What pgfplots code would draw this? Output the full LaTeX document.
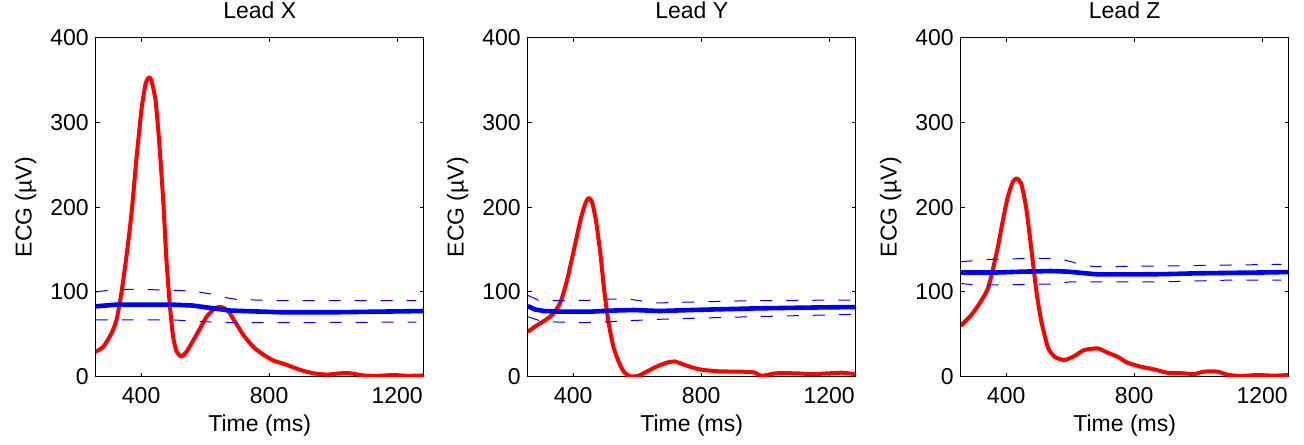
\documentclass[border=0pt]{standalone}
\usepackage{fontspec}
\setmainfont{Liberation Sans}
\usepackage{pgfplots}
\pgfplotsset{compat=1.18}
\definecolor{ecgred}{RGB}{255,0,0}
\definecolor{ecgblue}{RGB}{0,0,255}

\pgfplotsset{
  ecg/.style={
    scale only axis, width=164pt, height=169.5pt,
    xmin=258, xmax=1283, ymin=0, ymax=400,
    xtick={400,800,1200}, ytick={0,100,200,300,400},
    tick align=inside, major tick length=2pt,
    axis line style={line width=0.5pt},
    every tick/.style={black,line width=0.5pt},
    font=\fontsize{11.5}{13.8}\selectfont,
    /pgf/number format/assume math mode=true,
    /pgf/number format/1000 sep={},
    xticklabel style={yshift=-2pt},
    xlabel={Time (ms)}, ylabel={ECG (µV)},
    xlabel style={at={(axis description cs:0.5,0)},anchor=center,yshift=-24.5pt},
    ylabel style={at={(axis description cs:-0.2134,0.5)},anchor=center},
    every axis title/.style={at={(axis description cs:0.5,1)},anchor=center,yshift=13.5pt},
  },
  ecgline/.style={ecgred,line width=2pt,line join=round,smooth,tension=0.35},
  meanline/.style={ecgblue,line width=2.3pt,line join=round},
  bandline/.style={ecgblue,line width=0.5pt,dash pattern=on 6pt off 7pt},
}

\begin{document}
\begin{tikzpicture}
\useasboundingbox (0,0) rectangle (652pt,222pt);

% Lead X
\begin{axis}[ecg,at={(47.85pt,33.65pt)},anchor=south west,title={Lead X}]
\addplot[ecgline] coordinates {
(257,29.5) (281,35) (307,51) (323,67) (338,98) (354,142) (370,193) (385,256)
(401,315) (414,346) (424,353) (432,350) (445,326) (456,279) (469,208) (479,138)
(490,83) (500,47) (511,29.5) (526,24) (542,29.5) (563,43) (584,57) (605,71)
(631,81) (652,82) (673,77) (693,65) (720,49) (751,35) (782,26) (814,19)
(855,14) (897,8) (939,4) (981,2.5) (1022,4) (1054,4) (1095,1.5) (1137,1)
(1190,2) (1231,1) (1281,1.5)};
\addplot[bandline] coordinates {
(258,100) (320,103) (400,103) (500,102) (560,101) (620,97.5) (660,93.6) (700,91)
(840,89.7) (1000,89.7) (1260,89.7)};
\addplot[bandline] coordinates {
(258,67) (400,67) (500,67) (560,65.7) (620,64.5) (700,63.7) (840,63.7) (1260,64.5)};
\addplot[meanline] coordinates {
(258,83) (320,85) (400,85) (500,85) (560,84) (620,81) (680,78) (760,77)
(840,76) (1000,76) (1283,77.5)};
\end{axis}

% Lead Y
\begin{axis}[ecg,at={(263.85pt,33.65pt)},anchor=south west,title={Lead Y}]
\addplot[ecgline] coordinates {
(258,53) (288,61) (314,67) (340,75) (361,88.5) (381,114) (402,149) (423,185)
(438,204.5) (449,211) (459,206) (471,185) (485,145.5) (497,102) (511,63) (526,35)
(542,18) (558,6) (578,0.5) (604,1) (630,6) (661,12) (692,16.5) (718,18)
(744,14.5) (775,10.6) (806,8) (858,6.3) (920,6) (967,5) (988,1) (1034,4)
(1096,4) (1148,3) (1200,4) (1241,4.7) (1281,3)};
\addplot[bandline] coordinates {
(258,96) (295,89.7) (360,89.7) (440,90) (520,91.6) (580,91.2) (660,87) (760,88)
(960,89.7) (1270,90.5)};
\addplot[bandline] coordinates {
(258,70.8) (305,65) (430,63.7) (520,65) (660,67.6) (760,68.8) (960,70.8) (1270,73.5)};
\addplot[meanline] coordinates {
(258,83.4) (280,79.4) (310,77.5) (370,76.7) (450,76.7) (520,78) (590,78.7) (670,77.5)
(770,78.7) (970,80.6) (1180,81.8) (1283,82.2)};
\end{axis}

% Lead Z
\begin{axis}[ecg,at={(480.35pt,33.65pt)},anchor=south west,title={Lead Z}]
\addplot[ecgline] coordinates {
(258,60) (291,72.8) (317,86.5) (343,104) (358,126) (374,153) (390,185) (405,212)
(421,230) (433,234) (447,228) (462,200.6) (478,153) (494,102) (509,67) (530,35)
(551,23.6) (582,19.7) (613,24.4) (644,31.5) (686,33.4) (717,28.3) (748,23.6) (779,16.5)
(821,11.8) (862,8.7) (904,4.7) (956,4) (987,3) (1018,6) (1060,6) (1091,2.4)
(1132,0.8) (1184,2) (1236,1.2) (1281,2)};
\addplot[bandline] coordinates {
(258,135.7) (352,138.4) (478,139.6) (561,139.6) (603,135.7) (644,131) (686,129.8) (894,130.6)
(1101,131.8) (1260,132.5)};
\addplot[bandline] coordinates {
(258,110) (310,108) (540,109.3) (603,112) (686,112) (894,112) (1101,114) (1260,114)};
\addplot[meanline] coordinates {
(258,123) (374,123) (457,124) (540,124.7) (592,124) (686,120.7) (790,120.7) (894,121)
(998,122) (1205,123) (1283,123.5)};
\end{axis}
\end{tikzpicture}
\end{document}
